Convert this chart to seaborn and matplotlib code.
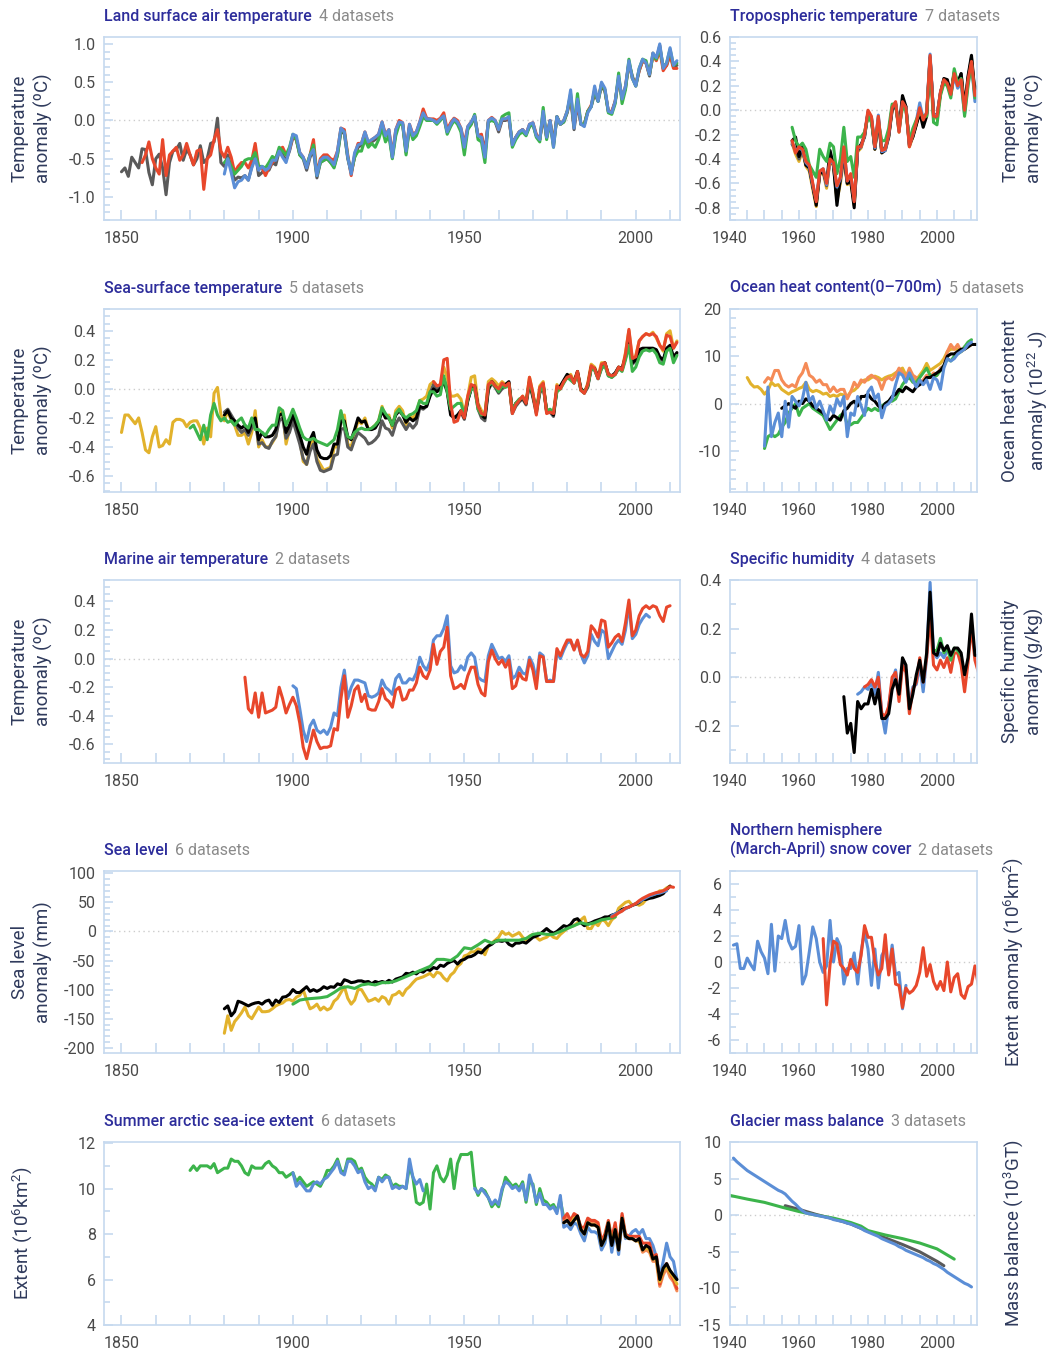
import numpy as np
import matplotlib
matplotlib.use("Agg")
import matplotlib.pyplot as plt
import seaborn as sns
from matplotlib.ticker import MultipleLocator

# ---------------- DATA ----------------
# Land surface air temperature (start years: gray 1850, red 1856, green 1880, blue 1880)
land_gray = [-0.67,-0.62,-0.73,-0.48,-0.55,-0.62,-0.37,-0.38,-0.68,-0.84,
             -0.50,-0.44,-0.62,-0.97,-0.55,-0.40,-0.38,-0.30,-0.52,-0.38,
             -0.45,-0.58,-0.50,-0.33,-0.55,-0.50,-0.30,-0.28,0.03,-0.55,
             -0.60,-0.45,-0.62,-0.78,-0.74,-0.75,-0.72,-0.78,-0.60,-0.40,
             -0.72,-0.68,-0.62,-0.65,-0.55,-0.58,-0.40,-0.45,-0.52,-0.40,
             -0.22,-0.25,-0.45,-0.50,-0.65,-0.48,-0.40,-0.75,-0.55,-0.52,
             -0.50,-0.55,-0.60,-0.45,-0.15,-0.17,-0.50,-0.68,-0.48,-0.35,
             -0.32,-0.18,-0.32,-0.28,-0.25,-0.20,-0.05,-0.20,-0.15,-0.48,
             -0.15,-0.03,-0.05,-0.42,-0.08,-0.20,-0.18,-0.05,0.08,0.02,
             0.00,0.00,-0.02,0.02,0.05,-0.15,-0.05,0.02,-0.02,-0.12,
             -0.35,-0.10,-0.05,0.05,-0.22,-0.20,-0.40,-0.02,0.02,-0.02,
             -0.15,0.00,0.00,0.02,-0.30,-0.22,-0.15,-0.12,-0.18,-0.08,
             -0.05,-0.20,-0.25,0.05,-0.22,0.00,-0.30,0.05,-0.05,-0.02,
             0.10,0.30,-0.12,0.22,-0.05,-0.05,0.12,0.18,0.35,0.25,
             0.45,0.38,0.12,0.10,0.25,0.55,0.30,0.42,0.75,0.58,
             0.45,0.65,0.78,0.75,0.58,0.88,0.80,0.98,0.68,0.72,
             0.88,0.70,0.72]
land_red = [-0.55,-0.45,-0.28,-0.50,
            -0.62,-0.70,-0.25,-0.72,-0.45,-0.40,-0.35,-0.52,-0.45,-0.30,
            -0.45,-0.58,-0.40,-0.38,-0.90,-0.50,-0.45,-0.25,-0.12,-0.40,
            -0.48,-0.35,-0.48,-0.68,-0.60,-0.55,-0.55,-0.62,-0.52,-0.30,
            -0.62,-0.62,-0.72,-0.62,-0.55,-0.50,-0.38,-0.35,-0.45,-0.38,
            -0.20,-0.25,-0.42,-0.48,-0.60,-0.45,-0.25,-0.70,-0.50,-0.45,
            -0.45,-0.50,-0.52,-0.40,-0.10,-0.12,-0.45,-0.72,-0.45,-0.30,
            -0.30,-0.15,-0.30,-0.25,-0.22,-0.18,-0.02,-0.18,-0.12,-0.45,
            -0.12,0.00,-0.03,-0.40,-0.05,-0.18,-0.15,-0.02,0.15,0.03,
            0.02,0.02,0.00,0.03,0.10,-0.12,-0.03,0.03,0.00,-0.10,
            -0.30,-0.08,-0.02,0.06,-0.20,-0.18,-0.45,0.00,0.04,0.00,
            -0.12,0.02,0.02,0.03,-0.32,-0.22,-0.15,-0.12,-0.18,-0.05,
            -0.03,-0.18,-0.25,0.10,-0.22,0.00,-0.32,0.05,-0.05,0.00,
            0.12,0.32,-0.08,0.25,-0.05,-0.05,0.12,0.20,0.38,0.28,
            0.47,0.40,0.12,0.12,0.25,0.55,0.28,0.45,0.75,0.55,
            0.48,0.65,0.78,0.75,0.60,0.85,0.78,0.92,0.65,0.72,
            0.85,0.68,0.68]
land_green = [-0.55,-0.50,-0.60,-0.70,-0.65,-0.60,-0.52,-0.50,-0.50,-0.42,
              -0.60,-0.60,-0.62,-0.55,-0.47,-0.50,-0.35,-0.40,-0.45,-0.35,
              -0.18,-0.25,-0.45,-0.50,-0.58,-0.45,-0.32,-0.72,-0.55,-0.52,
              -0.50,-0.55,-0.62,-0.45,-0.12,-0.15,-0.48,-0.68,-0.48,-0.40,
              -0.40,-0.25,-0.35,-0.30,-0.35,-0.25,-0.10,-0.28,-0.20,-0.50,
              -0.20,-0.05,-0.05,-0.45,-0.10,-0.25,-0.20,-0.08,0.05,0.00,
              0.00,0.00,-0.05,0.00,0.05,-0.18,-0.08,0.00,-0.05,-0.15,
              -0.45,-0.12,-0.05,0.08,-0.25,-0.28,-0.55,-0.02,0.00,-0.02,
              -0.10,0.05,0.08,0.10,-0.35,-0.25,-0.18,-0.15,-0.20,-0.08,
              -0.05,-0.22,-0.28,0.17,-0.25,-0.02,-0.35,0.05,-0.05,-0.02,
              0.12,0.35,-0.08,0.35,-0.05,-0.05,0.12,0.18,0.40,0.25,
              0.48,0.40,0.10,0.08,0.22,0.62,0.22,0.40,0.80,0.55,
              0.45,0.68,0.80,0.78,0.60,0.85,0.80,0.95,0.70,0.75,
              0.93,0.72,0.75]
land_blue = [-0.70,-0.50,-0.68,-0.88,-0.80,-0.78,-0.72,-0.78,-0.62,-0.50,
             -0.65,-0.60,-0.65,-0.62,-0.52,-0.52,-0.40,-0.48,-0.55,-0.38,
             -0.18,-0.20,-0.42,-0.48,-0.62,-0.45,-0.38,-0.72,-0.52,-0.48,
             -0.48,-0.52,-0.58,-0.40,-0.10,-0.15,-0.48,-0.70,-0.42,-0.32,
             -0.30,-0.15,-0.28,-0.25,-0.22,-0.18,-0.02,-0.20,-0.12,-0.48,
             -0.12,-0.02,-0.03,-0.40,-0.05,-0.20,-0.15,-0.02,0.10,0.02,
             0.02,0.00,-0.03,0.02,0.06,-0.15,-0.05,0.02,-0.02,-0.10,
             -0.35,-0.08,-0.02,0.06,-0.20,-0.22,-0.48,0.00,0.03,0.00,
             -0.12,0.02,0.02,0.05,-0.32,-0.22,-0.15,-0.12,-0.18,-0.05,
             -0.03,-0.20,-0.25,0.12,-0.22,0.00,-0.35,0.05,-0.05,0.00,
             0.12,0.40,-0.10,0.28,-0.05,-0.08,0.10,0.18,0.45,0.25,
             0.50,0.42,0.12,0.10,0.25,0.58,0.28,0.45,0.78,0.55,
             0.45,0.68,0.80,0.75,0.60,0.88,0.82,1.00,0.68,0.75,
             0.95,0.72,0.78]

# Tropospheric temperature, 1958-2012
trop_yellow = [-0.27,-0.36,-0.42,-0.33,-0.46,-0.50,-0.65,-0.79,-0.53,-0.51,
               -0.64,-0.41,-0.46,-0.74,-0.60,-0.39,-0.61,-0.59,-0.78,-0.34,
               -0.31,-0.21,-0.03,-0.07,-0.32,-0.07,-0.35,-0.31,-0.22,0.01,
               0.05,-0.18,0.07,0.02,-0.30,-0.22,-0.12,-0.01,-0.11,-0.04,
               0.43,-0.05,-0.07,0.13,0.24,0.23,0.13,0.32,0.21,0.29,
               0.00,0.25,0.42,0.12,0.19]
trop_gray = [-0.28,-0.32,-0.40,-0.32,-0.45,-0.48,-0.63,-0.76,-0.52,-0.50,
             -0.62,-0.40,-0.45,-0.72,-0.58,-0.38,-0.60,-0.56,-0.76,-0.33,
             -0.30,-0.20,-0.02,-0.06,-0.31,-0.06,-0.34,-0.30,-0.21,0.02,
             0.06,-0.17,0.08,0.03,-0.29,-0.21,-0.11,0.00,-0.10,-0.03,
             0.44,-0.04,-0.06,0.14,0.25,0.24,0.14,0.31,0.22,0.30,
             0.01,0.26,0.43,0.13,0.20]
trop_black = [-0.25,-0.22,-0.38,-0.30,-0.45,-0.47,-0.62,-0.78,-0.52,-0.50,
              -0.60,-0.33,-0.45,-0.78,-0.55,-0.35,-0.60,-0.58,-0.80,-0.32,
              -0.28,-0.22,-0.02,-0.08,-0.32,-0.08,-0.35,-0.33,-0.22,0.00,
              0.05,-0.15,0.12,0.03,-0.28,-0.22,-0.12,-0.02,-0.14,-0.05,
              0.43,-0.03,-0.05,0.14,0.26,0.25,0.14,0.30,0.22,0.30,
              0.02,0.28,0.45,0.14,0.21]
trop_blue = [-0.26,-0.34,-0.30,-0.33,-0.43,-0.46,-0.61,-0.74,-0.50,-0.48,
             -0.61,-0.41,-0.44,-0.63,-0.56,-0.31,-0.58,-0.53,-0.74,-0.31,
             -0.30,-0.21,-0.01,-0.06,-0.31,-0.04,-0.34,-0.33,-0.20,0.03,
             0.06,-0.17,0.06,0.02,-0.29,-0.20,-0.09,0.06,-0.07,-0.02,
             0.46,-0.04,-0.04,0.14,0.24,0.21,0.12,0.28,0.18,0.22,
             -0.03,0.22,0.38,0.07,0.10]
trop_green = [-0.14,-0.25,-0.30,-0.27,-0.32,-0.45,-0.50,-0.55,-0.32,-0.38,
              -0.42,-0.27,-0.30,-0.52,-0.40,-0.14,-0.42,-0.38,-0.55,-0.22,
              -0.22,-0.18,-0.05,-0.10,-0.28,-0.10,-0.25,-0.25,-0.15,0.05,
              0.05,-0.15,0.02,0.00,-0.25,-0.15,-0.08,-0.02,-0.05,-0.05,
              0.40,-0.10,-0.12,0.12,0.22,0.20,0.10,0.34,0.22,0.26,
              -0.05,0.20,0.38,0.10,0.13]
trop_red = [-0.25,-0.35,-0.30,-0.32,-0.42,-0.45,-0.60,-0.75,-0.50,-0.48,
            -0.60,-0.40,-0.43,-0.62,-0.55,-0.30,-0.58,-0.52,-0.75,-0.30,
            -0.30,-0.20,0.00,-0.05,-0.30,-0.05,-0.33,-0.32,-0.20,0.02,
            0.07,-0.18,0.07,0.02,-0.30,-0.20,-0.10,0.02,-0.08,-0.02,
            0.45,-0.05,-0.05,0.15,0.25,0.22,0.13,0.30,0.20,0.25,
            0.00,0.25,0.40,0.12,0.17]

# Sea-surface temperature (yellow 1850, green 1870, black 1880, gray 1880, red 1941)
sst_yellow = [-0.30,-0.18,-0.18,-0.21,-0.24,-0.20,-0.30,-0.42,-0.44,-0.33,
              -0.26,-0.40,-0.39,-0.35,-0.38,-0.23,-0.21,-0.21,-0.22,-0.26,
              -0.23,-0.22,-0.22,-0.27,-0.38,-0.27,-0.33,-0.03,0.01,-0.18,
              -0.22,-0.15,-0.22,-0.25,-0.32,-0.32,-0.30,-0.38,-0.30,-0.15,
              -0.40,-0.35,-0.40,-0.40,-0.37,-0.33,-0.18,-0.15,-0.38,-0.28,
              -0.20,-0.26,-0.35,-0.50,-0.52,-0.40,-0.33,-0.48,-0.52,-0.56,
              -0.55,-0.54,-0.40,-0.40,-0.20,-0.18,-0.38,-0.40,-0.30,-0.22,
              -0.24,-0.20,-0.28,-0.27,-0.25,-0.22,-0.12,-0.20,-0.18,-0.27,
              -0.15,-0.12,-0.15,-0.25,-0.18,-0.20,-0.17,-0.08,-0.07,-0.05,
              0.03,0.05,0.02,0.02,0.15,0.08,-0.05,-0.05,-0.04,-0.07,
              -0.17,-0.05,0.08,0.09,-0.10,-0.15,-0.18,0.05,0.07,0.05,
              0.02,0.05,0.03,0.04,-0.16,-0.10,-0.08,-0.05,-0.09,0.08,
              -0.03,-0.16,0.02,0.05,-0.16,-0.16,-0.18,0.03,0.00,0.05,
              0.08,0.10,0.05,0.12,0.00,-0.03,0.04,0.17,0.15,0.08,
              0.18,0.18,0.10,0.08,0.10,0.15,0.13,0.25,0.40,0.20,
              0.23,0.33,0.36,0.38,0.37,0.39,0.35,0.30,0.26,0.38,
              0.40,0.28,0.33]
sst_gray = [-0.16,-0.14,-0.18,-0.22,-0.27,-0.30,-0.28,-0.32,-0.27,-0.22,
            -0.38,-0.37,-0.40,-0.41,-0.36,-0.33,-0.22,-0.20,-0.34,-0.30,
            -0.22,-0.30,-0.38,-0.48,-0.52,-0.43,-0.38,-0.50,-0.56,-0.57,
            -0.56,-0.55,-0.46,-0.45,-0.28,-0.27,-0.40,-0.42,-0.35,-0.30,
            -0.32,-0.34,-0.38,-0.37,-0.35,-0.32,-0.22,-0.27,-0.28,-0.32,
            -0.24,-0.20,-0.24,-0.28,-0.24,-0.27,-0.24,-0.13,-0.14,-0.12,
            -0.03,0.03,0.00,0.01,0.07,0.00,-0.16,-0.20,-0.20,-0.16,
            -0.21,-0.08,0.00,0.01,-0.14,-0.20,-0.22,-0.01,0.04,0.01,
            -0.03,0.00,0.02,0.04,-0.17,-0.12,-0.09,-0.07,-0.11,0.04,
            -0.06,-0.17,-0.03,0.02,-0.16,-0.16,-0.19,-0.01,0.01,0.05,
            0.09,0.07,0.04,0.11,-0.01,-0.03,0.01,0.14,0.13,0.07,
            0.14,0.17,0.09,0.08,0.10,0.14,0.13,0.21,0.31,0.17,
            0.19,0.26,0.27,0.27,0.27,0.27,0.26,0.21,0.19,0.27,
            0.29,0.21,0.24]
sst_black = [-0.18,-0.15,-0.20,-0.22,-0.25,-0.27,-0.25,-0.30,-0.23,-0.20,
             -0.35,-0.30,-0.33,-0.33,-0.32,-0.28,-0.18,-0.17,-0.30,-0.25,
             -0.18,-0.25,-0.32,-0.40,-0.45,-0.35,-0.30,-0.42,-0.47,-0.48,
             -0.48,-0.46,-0.38,-0.38,-0.22,-0.22,-0.33,-0.35,-0.28,-0.20,
             -0.23,-0.22,-0.28,-0.28,-0.27,-0.23,-0.15,-0.20,-0.20,-0.25,
             -0.18,-0.15,-0.18,-0.23,-0.20,-0.22,-0.20,-0.12,-0.13,-0.12,
             -0.05,0.00,-0.02,0.00,0.05,-0.02,-0.18,-0.20,-0.18,-0.15,
             -0.20,-0.08,0.00,0.02,-0.12,-0.18,-0.20,0.00,0.05,0.02,
             -0.02,0.02,0.03,0.05,-0.15,-0.10,-0.08,-0.06,-0.10,0.05,
             -0.05,-0.15,-0.02,0.03,-0.15,-0.15,-0.18,0.00,0.02,0.06,
             0.10,0.08,0.05,0.12,0.00,-0.02,0.02,0.15,0.14,0.08,
             0.15,0.18,0.10,0.09,0.11,0.15,0.14,0.22,0.32,0.18,
             0.20,0.27,0.28,0.28,0.28,0.28,0.27,0.22,0.20,0.28,
             0.30,0.22,0.25]
sst_green = [-0.27,-0.25,-0.30,-0.35,-0.25,-0.35,-0.18,-0.10,-0.18,-0.22,
             -0.20,-0.23,-0.22,-0.25,-0.22,-0.20,-0.25,-0.27,-0.20,-0.28,
             -0.28,-0.30,-0.32,-0.28,-0.25,-0.25,-0.13,-0.15,-0.25,-0.20,
             -0.14,-0.20,-0.27,-0.33,-0.35,-0.35,-0.34,-0.36,-0.37,-0.38,
             -0.39,-0.37,-0.35,-0.28,-0.15,-0.25,-0.33,-0.34,-0.30,-0.28,
             -0.27,-0.28,-0.28,-0.27,-0.25,-0.22,-0.13,-0.17,-0.20,-0.25,
             -0.17,-0.14,-0.18,-0.20,-0.18,-0.17,-0.15,-0.08,-0.10,-0.10,
             -0.02,-0.02,-0.05,-0.04,0.09,-0.02,-0.14,-0.12,-0.10,-0.10,
             -0.18,-0.07,0.00,0.00,-0.14,-0.18,-0.17,0.02,0.04,0.02,
             -0.02,0.02,0.01,0.03,-0.15,-0.10,-0.07,-0.06,-0.09,0.05,
             -0.04,-0.15,-0.02,0.02,-0.15,-0.14,-0.16,-0.02,0.00,0.04,
             0.08,0.06,0.04,0.10,-0.01,-0.02,0.02,0.14,0.13,0.07,
             0.14,0.16,0.09,0.08,0.10,0.14,0.12,0.20,0.30,0.12,
             0.15,0.22,0.26,0.27,0.26,0.27,0.24,0.18,0.17,0.26,
             0.28,0.18,0.23]
sst_red = [0.05,0.02,0.03,0.20,0.21,-0.10,-0.23,-0.22,-0.15,
           -0.20,-0.05,0.03,0.02,-0.12,-0.17,-0.18,0.03,0.05,0.02,
           0.00,0.04,0.02,0.04,-0.17,-0.11,-0.08,-0.05,-0.10,0.08,
           -0.03,-0.18,0.01,0.04,-0.17,-0.16,-0.17,0.02,0.00,0.05,
           0.08,0.09,0.04,0.12,-0.01,-0.03,0.03,0.16,0.14,0.07,
           0.17,0.18,0.10,0.09,0.10,0.15,0.13,0.24,0.41,0.21,
           0.22,0.33,0.36,0.38,0.37,0.38,0.36,0.30,0.27,0.37,
           0.36,0.28,0.32]

# Ocean heat content 0-700 m (yellow 1945, orange/green/blue 1950, black 1955)
ohc_yellow = [5.5,4.2,3.5,3.6,3.0,
              2.0,2.8,4.5,3.8,4.0,3.0,2.5,2.0,2.5,2.8,
              3.2,3.5,4.5,3.0,2.5,2.8,2.5,2.0,2.2,1.5,
              1.8,1.5,2.0,1.8,1.5,2.5,2.8,3.5,4.5,5.0,
              5.0,5.5,5.8,5.5,5.0,5.5,5.8,6.0,6.5,7.0,
              7.5,6.0,6.8,5.5,5.0,6.0,7.0,8.5,7.0,7.5,
              8.0,8.5,9.5,11.0,11.5,11.5,11.5,11.0,11.5,12.0,
              12.5]
ohc_orange = [4.5,5.5,5.0,7.0,7.0,5.0,4.0,3.5,4.0,3.5,
              5.5,6.5,8.5,6.0,5.5,4.5,5.0,4.0,4.0,2.5,
              3.5,2.5,3.0,3.0,1.0,2.5,4.5,3.5,5.0,4.5,
              5.5,6.0,5.5,5.0,3.0,5.0,5.5,5.0,6.0,7.5,
              6.5,5.5,7.5,6.0,5.5,4.5,5.0,6.0,5.5,6.5,
              6.0,7.5,8.0,11.0,12.5,11.5,12.5,11.0,12.0,12.0,
              12.5]
ohc_green = [-9.5,-7.0,-6.5,-7.0,-6.5,-5.0,-4.0,-2.0,-1.0,0.0,
             -2.5,-1.0,-0.5,0.0,-1.0,-1.5,-2.0,-2.5,-4.0,-5.5,
             -4.5,-3.5,-2.5,-2.0,-4.5,-4.5,-4.0,-4.0,-3.0,-2.0,
             -1.0,-1.5,-1.0,-1.5,-0.5,0.0,0.5,0.5,1.0,2.5,
             4.0,5.0,5.5,4.5,4.5,5.5,6.5,7.5,6.0,5.5,
             6.0,7.0,8.0,9.5,9.0,10.0,10.5,11.0,12.0,13.0,
             13.5]
ohc_black = [-1.0,-0.5,0.0,-0.5,-1.0,
             0.5,0.0,1.0,0.5,-0.5,-1.0,-1.5,-2.0,-3.0,-3.5,
             -2.5,-3.0,-3.5,-1.5,-1.0,0.0,0.5,-0.5,1.5,1.5,
             2.0,1.0,0.5,-0.5,-1.0,0.0,0.5,1.5,2.0,3.0,
             2.5,3.5,3.0,2.5,3.5,4.0,4.5,5.5,5.5,6.0,
             6.5,7.0,8.0,10.0,10.5,10.5,11.0,11.5,11.5,12.0,
             12.5,12.5,12.5]
ohc_blue = [-9.0,3.5,-7.0,-4.0,-2.0,-7.0,0.5,-5.0,1.5,0.5,
            -0.5,1.0,4.5,0.5,1.5,-1.0,0.5,-1.5,-3.5,-0.5,
            -2.0,1.0,-0.5,1.5,-7.0,-2.0,-2.5,1.5,-0.5,-2.5,
            2.5,3.5,1.0,2.0,-3.0,-0.5,0.0,1.0,4.0,6.5,
            6.0,4.5,6.5,5.0,3.5,5.0,4.0,5.0,3.0,5.5,
            5.0,3.0,7.5,9.5,9.0,9.5,10.5,11.0,11.5,12.5,
            13.0]

# Marine air temperature (red 1886-2010, blue 1900-2004)
mat_red = [-0.13,-0.35,-0.38,-0.24,
           -0.41,-0.24,-0.38,-0.37,-0.36,-0.34,-0.20,-0.28,-0.38,-0.32,
           -0.27,-0.33,-0.45,-0.62,-0.70,-0.60,-0.50,-0.58,-0.63,-0.62,
           -0.62,-0.61,-0.49,-0.50,-0.28,-0.12,-0.41,-0.33,-0.22,-0.19,
           -0.30,-0.25,-0.35,-0.36,-0.36,-0.30,-0.21,-0.28,-0.30,-0.34,
           -0.22,-0.20,-0.29,-0.28,-0.22,-0.22,-0.17,-0.06,-0.12,-0.14,
           -0.08,0.10,-0.04,0.05,0.08,0.22,-0.12,-0.21,-0.20,-0.18,
           -0.21,-0.12,-0.06,-0.06,-0.18,-0.24,-0.26,-0.02,0.06,0.00,
           -0.04,-0.01,-0.06,-0.01,-0.21,-0.19,-0.10,-0.14,-0.15,-0.01,
           -0.08,-0.21,0.02,0.01,-0.16,-0.16,-0.16,0.07,0.02,0.08,
           0.13,0.13,0.06,0.13,0.03,0.01,0.05,0.23,0.20,0.15,
           0.27,0.26,0.08,0.11,0.15,0.17,0.12,0.25,0.41,0.16,
           0.20,0.30,0.35,0.37,0.35,0.37,0.36,0.30,0.26,0.36,
           0.37]
mat_blue = [-0.19,-0.21,-0.35,-0.50,-0.58,-0.47,-0.43,-0.50,-0.52,-0.50,
            -0.53,-0.48,-0.38,-0.40,-0.20,-0.08,-0.28,-0.20,-0.15,-0.15,
            -0.16,-0.17,-0.26,-0.27,-0.26,-0.24,-0.15,-0.20,-0.22,-0.25,
            -0.14,-0.11,-0.17,-0.17,-0.14,-0.15,-0.10,0.01,-0.05,-0.08,
            -0.02,0.13,0.16,0.16,0.21,0.30,-0.05,-0.10,-0.09,-0.05,
            -0.08,0.01,0.04,0.01,-0.13,-0.15,-0.16,0.02,0.10,0.05,
            0.00,0.01,-0.02,0.02,-0.14,-0.12,-0.06,-0.10,-0.11,0.01,
            -0.04,-0.15,0.04,0.02,-0.16,-0.15,-0.16,0.05,0.00,0.06,
            0.11,0.12,0.07,0.12,0.03,-0.03,0.02,0.17,0.12,0.09,
            0.20,0.18,0.00,0.05,0.10,0.13,0.10,0.20,0.38,0.14,
            0.17,0.24,0.28,0.31,0.29]

# Specific humidity (black 1973, blue 1977, red 1979, green 1999)
hum_black = [-0.08,-0.23,-0.19,-0.31,-0.10,-0.13,-0.11,
             -0.11,-0.05,-0.11,-0.05,-0.17,-0.17,-0.15,-0.05,-0.01,-0.07,
             0.08,0.05,-0.13,-0.07,0.01,0.07,-0.02,0.10,0.35,0.10,
             0.09,0.14,0.11,0.13,0.09,0.12,0.12,0.10,0.01,0.08,
             0.26,0.09,0.09]
hum_blue = [-0.07,-0.06,-0.04,
            -0.05,-0.02,-0.07,0.02,-0.15,-0.23,-0.12,-0.02,0.03,-0.08,
            0.06,0.03,-0.12,-0.04,-0.03,0.05,-0.06,0.08,0.39,0.10,
            0.08,0.10,0.08,0.11]
hum_red = [-0.04,
           -0.03,-0.01,-0.04,0.00,-0.15,-0.16,-0.12,0.00,0.02,-0.10,
           0.05,0.02,-0.15,-0.05,-0.02,0.08,-0.02,0.08,0.25,0.05,
           0.03,0.07,0.04,0.08,0.02,0.10,0.10,0.05,-0.06,0.06,
           0.21,0.07,0.02]
hum_green = [0.11,0.11,0.16,0.10,0.12,0.07,0.12,0.11,0.09]

# Sea level (yellow & black 1880-2010, green every 2 yrs 1900-1994, blue 1993-2009, red 1993-2011)
sl_yellow = [-175,-145,-170,-155,-148,-140,-130,-145,-150,-140,
             -130,-138,-138,-137,-133,-128,-125,-123,-118,-117,
             -120,-113,-110,-100,-118,-133,-130,-125,-135,-130,
             -135,-132,-120,-115,-105,-95,-115,-125,-118,-100,
             -100,-110,-120,-118,-115,-120,-112,-115,-125,-110,
             -108,-103,-110,-100,-95,-88,-82,-80,-78,-75,
             -72,-78,-70,-72,-80,-85,-75,-70,-60,-55,
             -42,-40,-35,-35,-30,-32,-40,-25,-20,-15,
             -10,0,-5,-3,-8,-5,-2,-10,-15,-8,
             -5,-10,-15,-12,-10,-5,-10,-12,-5,0,
             5,8,10,15,20,25,5,5,15,10,
             20,18,10,20,25,40,45,50,52,45,
             48,45,48,55,60,62,65,70,70,75,
             78]
sl_black = [-133,-128,-145,-138,-120,-122,-125,-128,-125,-123,
            -122,-125,-120,-118,-127,-118,-122,-113,-112,-108,
            -100,-105,-105,-100,-95,-103,-100,-103,-100,-95,
            -98,-95,-96,-90,-92,-83,-85,-88,-87,-85,
            -85,-87,-86,-90,-86,-88,-86,-88,-84,-87,
            -82,-80,-78,-72,-73,-70,-73,-68,-70,-65,
            -67,-62,-64,-58,-60,-55,-52,-50,-56,-50,
            -48,-44,-43,-40,-35,-37,-30,-25,-22,-17,
            -16,-17,-15,-22,-25,-20,-20,-18,-20,-15,
            -10,-8,-5,0,5,0,-3,0,5,10,
            8,12,20,22,15,10,13,15,18,20,
            22,25,25,28,30,33,38,40,42,45,
            47,50,55,55,57,58,60,62,65,72,
            78]
sl_green_years = list(range(1900, 1995, 2))
sl_green = [-125,-118,-116,-115,-114,-112,-105,-97,-95,-98,
            -92,-90,-92,-88,-88,-85,-80,-75,-70,-65,
            -60,-48,-48,-50,-42,-28,-30,-23,-15,-20,
            -15,-15,-15,-15,-12,-5,-3,-5,-5,0,
            5,10,15,12,15,20,22,25]
sl_blue = [27,30,33,36,39,42,45,48,51,55,58,61,63,65,66,68,70]
sl_red = [25,28,32,35,40,42,45,48,53,57,60,63,65,67,68,70,73,77,76]

# NH March-April snow cover (blue 1941-1991, red 1967-2012)
snow_blue = [1.3,1.4,-0.5,-0.5,0.3,-0.2,-0.6,1.6,0.8,0.3,
             -0.9,2.9,-0.7,2.0,1.8,3.2,1.6,1.0,1.2,2.8,
             -1.7,-1.0,0.8,2.7,1.8,0.0,-0.8,-0.3,3.2,0.0,
             1.8,1.2,-1.7,-0.5,-0.5,0.7,-1.7,0.8,2.3,1.0,
             -1.8,1.0,-2.0,0.5,1.0,-0.8,1.3,-1.0,-0.8,-3.6,
             -1.8]
snow_red = [1.8,-3.3,-0.2,1.6,1.4,-0.2,-0.5,-1.0,0.2,-0.5,
            -0.8,0.5,2.8,1.9,1.9,0.0,-1.0,-0.5,2.1,-1.0,
            1.0,-1.7,-1.8,-3.5,-2.0,-2.4,-2.2,-1.8,-0.8,1.1,
            -1.1,-0.2,-1.5,-2.1,-1.5,-2.2,0.0,-2.3,-1.2,-0.9,
            -2.5,-2.8,-1.9,-1.7,-0.3,-1.8]

# Summer arctic sea-ice extent (green 1870-1979, blue 1900-1938 & 1953-2012, others 1979-2012)
ice_green = [10.8,11.0,10.8,11.0,11.0,11.0,10.9,11.1,10.7,10.8,
             10.9,10.9,11.3,11.2,11.2,11.0,10.7,10.6,11.0,10.9,
             10.9,10.9,11.1,11.2,11.0,10.9,10.7,10.7,10.5,10.6,
             10.7,10.3,10.5,10.3,10.1,10.2,10.3,10.2,10.1,10.4,
             10.8,10.8,11.0,11.3,10.8,10.7,11.3,11.3,11.2,10.8,
             10.9,10.5,10.3,10.2,10.0,10.5,10.4,10.6,10.5,10.1,
             10.2,10.1,10.1,10.0,11.0,10.5,9.4,9.3,9.4,10.2,
             9.1,10.7,11.0,10.5,10.3,10.6,11.3,10.0,11.1,11.5,
             11.5,11.5,11.6,10.1,9.7,10.0,9.9,9.6,9.2,9.4,
             9.2,9.9,10.5,10.3,10.1,10.2,10.0,10.3,9.4,10.3,
             10.2,9.3,10.0,9.5,9.4,9.2,9.3,9.0,9.5,8.7]
ice_blue_early = [10.7,10.1,10.3,10.1,9.9,9.9,10.2,10.3,10.2,10.4,
                  10.5,10.7,10.9,11.2,10.7,10.6,11.2,11.2,11.0,10.7,
                  10.8,10.3,10.0,10.1,9.9,10.5,10.3,10.5,10.5,10.0,
                  10.1,10.0,10.1,10.0,11.3,10.5,10.2,10.4,9.9]
ice_blue_late = [10.0,9.8,10.0,9.8,9.6,9.3,9.5,
                 9.3,10.0,10.3,10.2,10.0,10.1,9.9,10.2,9.5,10.6,
                 10.1,9.4,9.8,9.3,9.3,9.1,9.2,8.9,9.7,8.3,
                 8.4,8.2,8.5,8.4,8.0,7.7,8.3,8.1,8.1,8.0,
                 7.3,7.6,8.4,7.2,8.1,7.1,8.6,7.8,7.9,8.1,
                 8.2,8.0,8.2,7.8,7.8,7.5,7.0,6.1,6.8,7.6,
                 7.0,6.8,6.0]
ice_orange = [8.6,8.7,8.5,8.8,8.7,8.2,8.1,8.6,8.5,8.5,
              8.4,7.6,7.9,8.5,7.7,8.3,7.3,8.8,7.9,7.8,
              7.8,7.7,7.7,7.2,7.3,7.2,6.8,6.8,5.7,6.2,
              6.5,6.1,5.9,5.5]
ice_red = [8.7,8.9,8.6,8.9,8.8,8.3,8.3,8.7,8.6,8.6,
           8.5,7.7,8.0,8.6,7.8,8.5,7.4,8.9,8.0,7.9,
           7.9,7.9,7.9,7.6,7.6,7.6,7.0,7.1,5.8,6.4,
           6.7,6.3,6.0,5.6]
ice_yellow = [8.5,8.6,8.4,8.7,8.7,8.2,8.0,8.5,8.4,8.4,
              8.3,7.5,7.8,8.5,7.6,8.2,7.3,8.7,7.9,7.8,
              7.8,7.7,7.7,7.3,7.4,7.3,6.9,6.9,5.9,6.4,
              6.6,6.3,6.1,5.8]
ice_black = [8.5,8.6,8.4,8.6,8.8,8.2,8.0,8.5,8.4,8.4,
             8.3,7.5,7.8,8.5,7.5,8.2,7.3,8.7,7.9,7.8,
             7.8,7.7,7.8,7.3,7.5,7.4,6.9,7.0,6.0,6.5,
             6.7,6.4,6.2,6.0]

# Glacier mass balance
gl_blue = [7.8,7.3,6.9,6.5,6.1,5.8,5.5,5.2,4.9,4.6,
           4.3,4.0,3.7,3.4,3.2,2.9,2.4,1.9,1.5,1.0,
           0.6,0.3,0.2,0.1,0.0,-0.1,-0.2,-0.3,-0.4,-0.6,
           -0.7,-0.8,-0.9,-1.1,-1.2,-1.4,-1.6,-1.8,-2.1,-2.3,
           -2.5,-2.7,-2.9,-3.2,-3.4,-3.6,-3.8,-4.0,-4.3,-4.5,
           -4.8,-5.0,-5.2,-5.4,-5.6,-5.8,-6.1,-6.3,-6.6,-6.8,
           -7.1,-7.4,-7.8,-8.1,-8.4,-8.7,-9.0,-9.3,-9.5,-9.8]
gl_green_years = [1940,1945,1950,1955,1960,1965,1970,1975,1978,1980,1985,1990,1995,2000,2005]
gl_green = [2.7,2.2,1.75,1.1,0.5,0.0,-0.4,-1.0,-1.5,-2.1,-2.7,-3.2,-3.8,-4.6,-6.0]
gl_gray_years = [1956,1960,1965,1970,1975,1980,1985,1990,1995,2000,2002]
gl_gray = [1.3,0.8,0.1,-0.5,-1.2,-2.2,-3.1,-4.0,-5.0,-6.3,-6.9]

# ---------------- STYLE ----------------
sns.set_theme(style="white")
plt.rcParams['font.family'] = ['Roboto', 'DejaVu Sans']
plt.rcParams['mathtext.fontset'] = 'custom'
plt.rcParams['mathtext.rm'] = 'Roboto'
plt.rcParams['mathtext.it'] = 'Roboto'
plt.rcParams['axes.unicode_minus'] = False

RED = '#e8472b'; BLUE = '#5b8ed6'; GREEN = '#3cb44b'; GRAY = '#5a5a5a'
BLACK = '#000000'; YELLOW = '#e2b22c'; ORANGE = '#f58b57'
SPINE = '#c6d9ef'; TICKTXT = '#4a4a4a'; LABEL = '#2f3a5c'; TITLE = '#2d2d9b'; SUB = '#8a8a8a'
LW = 2.2

W, H = 1047, 1355
fig = plt.figure(figsize=(W / 100, H / 100), dpi=100)
rows = [(37, 220), (309, 492), (580, 763), (871, 1053), (1142, 1325)]


def make_ax(col, row):
    t, b = rows[row]
    l, r = (104, 680) if col == 0 else (730, 977)
    return fig.add_axes([l / W, 1 - b / H, (r - l) / W, (b - t) / H])


def draw(ax, x, vals, color, lw=LW):
    sns.lineplot(x=np.asarray(x, float), y=np.asarray(vals, float), ax=ax, color=color,
                 linewidth=lw, estimator=None, sort=False)


def yrs(start, vals):
    return np.arange(start, start + len(vals))


def style(ax, col, row, xlim, ylim, yt, yminor, ylabel, title, sub, zero=True):
    ax.set_xlim(xlim)
    ax.set_ylim(ylim)
    for s in ax.spines.values():
        s.set_color(SPINE)
        s.set_linewidth(1.2)
    if col == 0:
        ax.set_xticks([1850, 1900, 1950, 2000])
        ax.xaxis.set_minor_locator(MultipleLocator(10))
    else:
        ax.set_xticks([1940, 1960, 1980, 2000])
        ax.xaxis.set_minor_locator(MultipleLocator(5))
    ax.set_yticks([v for v, _ in yt])
    ax.set_yticklabels([s for _, s in yt])
    ax.yaxis.set_minor_locator(MultipleLocator(yminor))
    ax.tick_params(which='both', direction='in', color=SPINE, width=1.2)
    ax.tick_params(axis='x', which='both', length=7.5, pad=8, labelsize=11.5,
                   labelcolor=TICKTXT, bottom=True, top=False)
    ax.tick_params(axis='y', which='major', length=6.5, pad=6, labelsize=11.5,
                   labelcolor=TICKTXT, left=True, right=False)
    ax.tick_params(axis='y', which='minor', length=4.5, left=True, right=False)
    ax.set_xlabel('')
    ax.set_ylabel(ylabel, color=LABEL, fontsize=13.5, linespacing=1.35)
    if col == 1:
        ax.yaxis.set_label_position('right')
        ax.yaxis.set_label_coords(1.098, 0.5)
    else:
        ax.yaxis.label.set_verticalalignment('top')
        ax.yaxis.set_label_coords(-0.162, 0.5)
    if zero:
        ax.axhline(0, color='#cccccc', lw=1.0, ls=(0, (1, 2.5)), zorder=0.5)
    t, b = rows[row]
    t1 = ax.text(0, 1 + 13 / (b - t), title, transform=ax.transAxes, ha='left', va='bottom',
                 color=TITLE, fontsize=11.5, fontweight='medium', linespacing=1.2)
    ax.annotate(sub, xy=(1, 0), xycoords=t1, xytext=(5, 0), textcoords='offset points',
                ha='left', va='bottom', color=SUB, fontsize=11.5)


LX = (1844.9, 2012.9)
RX = (1940, 2011.6)

# 1 Land surface air temperature
ax = make_ax(0, 0)
draw(ax, yrs(1850, land_gray), land_gray, GRAY)
draw(ax, yrs(1856, land_red), land_red, RED)
draw(ax, yrs(1880, land_green), land_green, GREEN)
draw(ax, yrs(1880, land_blue), land_blue, BLUE)
style(ax, 0, 0, LX, (-1.3, 1.09),
      [(-1.0, '-1.0'), (-0.5, '-0.5'), (0.0, '0.0'), (0.5, '0.5'), (1.0, '1.0')], 0.1,
      'Temperature\nanomaly (ºC)', 'Land surface air temperature', '4 datasets')

# 2 Tropospheric temperature
ax = make_ax(1, 0)
for vals, c in [(trop_yellow, YELLOW), (trop_gray, GRAY), (trop_black, BLACK),
                (trop_blue, BLUE), (trop_green, GREEN), (trop_red, RED)]:
    draw(ax, yrs(1958, vals), vals, c)
style(ax, 1, 0, RX, (-0.9, 0.6),
      [(-0.8, '-0.8'), (-0.6, '-0.6'), (-0.4, '-0.4'), (-0.2, '-0.2'), (0.0, '0.0'),
       (0.2, '0.2'), (0.4, '0.4'), (0.6, '0.6')], 0.05,
      'Temperature\nanomaly (ºC)', 'Tropospheric temperature', '7 datasets')

# 3 Sea-surface temperature
ax = make_ax(0, 1)
draw(ax, yrs(1850, sst_yellow), sst_yellow, YELLOW)
draw(ax, yrs(1880, sst_gray), sst_gray, GRAY)
draw(ax, yrs(1880, sst_black), sst_black, BLACK)
draw(ax, yrs(1870, sst_green), sst_green, GREEN)
draw(ax, yrs(1941, sst_red), sst_red, RED)
style(ax, 0, 1, LX, (-0.71, 0.55),
      [(-0.6, '-0.6'), (-0.4, '-0.4'), (-0.2, '-0.2'), (0.0, '0.0'), (0.2, '0.2'), (0.4, '0.4')], 0.05,
      'Temperature\nanomaly (ºC)', 'Sea-surface temperature', '5 datasets')

# 4 Ocean heat content
ax = make_ax(1, 1)
draw(ax, yrs(1945, ohc_yellow), ohc_yellow, YELLOW)
draw(ax, yrs(1950, ohc_orange), ohc_orange, ORANGE)
draw(ax, yrs(1950, ohc_green), ohc_green, GREEN)
draw(ax, yrs(1955, ohc_black), ohc_black, BLACK)
draw(ax, yrs(1950, ohc_blue), ohc_blue, BLUE)
style(ax, 1, 1, RX, (-18.7, 20),
      [(-10, '-10'), (0, '0'), (10, '10'), (20, '20')], 2,
      'Ocean heat content\nanomaly (10$^{22}$ J)', 'Ocean heat content(0–700m)', '5 datasets')

# 5 Marine air temperature
ax = make_ax(0, 2)
draw(ax, yrs(1900, mat_blue), mat_blue, BLUE)
draw(ax, yrs(1886, mat_red), mat_red, RED)
style(ax, 0, 2, LX, (-0.73, 0.55),
      [(-0.6, '-0.6'), (-0.4, '-0.4'), (-0.2, '-0.2'), (0.0, '0.0'), (0.2, '0.2'), (0.4, '0.4')], 0.05,
      'Temperature\nanomaly (ºC)', 'Marine air temperature', '2 datasets')

# 6 Specific humidity
ax = make_ax(1, 2)
draw(ax, yrs(1977, hum_blue), hum_blue, BLUE)
draw(ax, yrs(1979, hum_red), hum_red, RED)
draw(ax, yrs(1999, hum_green), hum_green, GREEN)
draw(ax, yrs(1973, hum_black), hum_black, BLACK)
style(ax, 1, 2, RX, (-0.353, 0.4),
      [(-0.2, '-0.2'), (0.0, '0.0'), (0.2, '0.2'), (0.4, '0.4')], 0.1,
      'Specific humidity\nanomaly (g/kg)', 'Specific humidity', '4 datasets')

# 7 Sea level
ax = make_ax(0, 3)
draw(ax, yrs(1880, sl_yellow), sl_yellow, YELLOW)
draw(ax, yrs(1880, sl_black), sl_black, BLACK)
draw(ax, sl_green_years, sl_green, GREEN)
draw(ax, yrs(1993, sl_blue), sl_blue, BLUE)
draw(ax, yrs(1993, sl_red), sl_red, RED)
style(ax, 0, 3, LX, (-209, 104),
      [(-200, '-200'), (-150, '-150'), (-100, '-100'), (-50, '-50'), (0, '0'), (50, '50'), (100, '100')], 10,
      'Sea level\nanomaly (mm)', 'Sea level', '6 datasets')

# 8 Snow cover
ax = make_ax(1, 3)
draw(ax, yrs(1941, snow_blue), snow_blue, BLUE)
draw(ax, yrs(1967, snow_red), snow_red, RED)
style(ax, 1, 3, RX, (-7, 7),
      [(-6, '-6'), (-4, '-4'), (-2, '-2'), (0, '0'), (2, '2'), (4, '4'), (6, '6')], 1,
      'Extent anomaly (10$^{6}$km$^{2}$)', 'Northern hemisphere\n(March-April) snow cover', '2 datasets')

# 9 Sea-ice extent
ax = make_ax(0, 4)
draw(ax, yrs(1870, ice_green), ice_green, GREEN)
draw(ax, yrs(1900, ice_blue_early), ice_blue_early, BLUE)
draw(ax, yrs(1953, ice_blue_late), ice_blue_late, BLUE)
draw(ax, yrs(1979, ice_orange), ice_orange, ORANGE)
draw(ax, yrs(1979, ice_red), ice_red, RED)
draw(ax, yrs(1979, ice_yellow), ice_yellow, YELLOW)
draw(ax, yrs(1979, ice_black), ice_black, BLACK)
style(ax, 0, 4, LX, (4, 12.05),
      [(4, '4'), (6, '6'), (8, '8'), (10, '10'), (12, '12')], 1,
      'Extent (10$^{6}$km$^{2}$)', 'Summer arctic sea-ice extent', '6 datasets', zero=False)

# 10 Glacier mass balance
ax = make_ax(1, 4)
draw(ax, gl_gray_years, gl_gray, GRAY)
draw(ax, gl_green_years, gl_green, GREEN)
draw(ax, yrs(1941, gl_blue), gl_blue, BLUE)
style(ax, 1, 4, RX, (-15, 10),
      [(-15, '-15'), (-10, '-10'), (-5, '-5'), (0, '0'), (5, '5'), (10, '10')], 2.5,
      'Mass balance (10$^{3}$GT)', 'Glacier mass balance', '3 datasets')

fig.savefig('out.png', dpi=100)
